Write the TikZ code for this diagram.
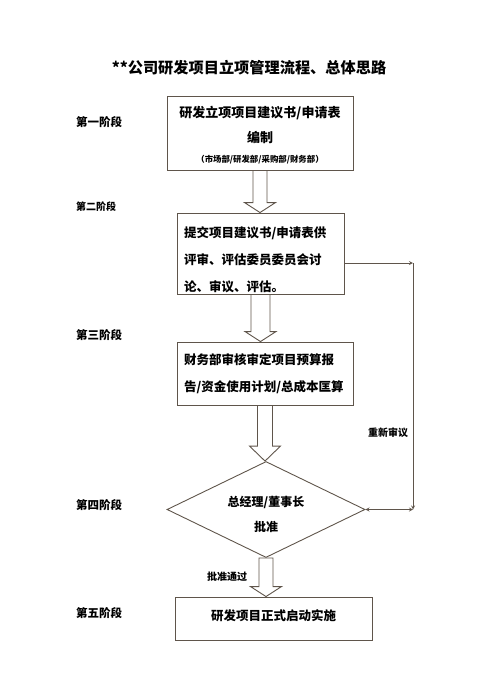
\documentclass[tikz,border=0pt]{standalone}
\usepackage{fontspec}
\setmainfont{Noto Sans CJK SC}
\usetikzlibrary{shapes.geometric,calc}
\definecolor{framegray}{RGB}{95,85,75}
\tikzstyle{box}=[shape=rectangle,
                draw=framegray,
                line width=0.9pt,
                inner xsep=7pt,
                inner ysep=0pt,
                font=\bfseries\fontsize{12.5}{27}\selectfont]
\tikzstyle{dec}=[shape=diamond,
                draw=framegray,
                line width=0.9pt,
                aspect=2,
                inner sep=0pt,
                minimum width=198pt,
                minimum height=96pt,
                align=center,
                font=\bfseries\fontsize{12}{25}\selectfont]
\tikzstyle{stage}=[anchor=west,
                inner sep=0pt,
                font=\bfseries\fontsize{11.5}{13}\selectfont]
\tikzstyle{note}=[inner sep=0pt,
                font=\bfseries\fontsize{10}{12}\selectfont]
\tikzstyle{flow}=[draw=framegray,
                line width=0.9pt]
\tikzstyle{link}=[draw=framegray,
                line width=0.8pt]

% hollow arrow: from, to, half shaft width, head length
\newcommand{\blockarrow}[4]{%
  \draw[flow] let \p1=(#1.south), \p2=(#2.north) in
    (\x1-#3pt,\y1) -- (\x1-#3pt,\y2+#4pt) -- (\x1-15.5pt,\y2+#4pt) -- (\x1,\y2)
    -- (\x1+15.5pt,\y2+#4pt) -- (\x1+#3pt,\y2+#4pt) -- (\x1+#3pt,\y1) -- cycle;}

\begin{document}
\begin{tikzpicture}[x=1pt,y=-1pt,>=stealth]
\useasboundingbox (0,0) rectangle (500,688);

% title
\node[inner sep=0pt,font=\bfseries\fontsize{15.2}{18}\selectfont] (title) at (249,68)
  {**公司研发项目立项管理流程、总体思路};

% stage labels
\node[stage] (s1) at (76,122) {第一阶段};
\node[stage,font=\bfseries\fontsize{10}{12}\selectfont] (s2) at (76,207) {第二阶段};
\node[stage] (s3) at (76,335) {第三阶段};
\node[stage] (s4) at (76,505) {第四阶段};
\node[stage] (s5) at (76,613) {第五阶段};

% process steps
\node[box,align=center,text width=172pt,minimum height=74pt,text height=16pt,
      font=\bfseries\fontsize{13}{25}\selectfont] (b1) at (260,133)
  {研发立项项目建议书/申请表\\编制\\[-5pt]{\fontsize{8.4}{10}\selectfont （市场部/研发部/采购部/财务部）}};
\node[box,align=left,text width=153pt,minimum height=81pt,text height=24pt] (b2) at (260.5,253.5)
  {提交项目建议书/申请表供\\评审、评估委员委员会讨\\论、审议、评估。};
\node[box,align=left,text width=162pt,minimum height=63pt,text height=10.5pt] (b3) at (265,373.5)
  {财务部审核审定项目预算报\\告/资金使用计划/总成本匡算};
\node[dec,text height=45pt] (dia) at (266,509.5) {总经理/董事长\\批准};
\node[box,minimum width=197pt,minimum height=43pt,text height=4pt,text depth=1pt] (b5) at (273.5,618.5)
  {研发项目正式启动实施};

% hollow arrows between steps
\blockarrow{b1}{b2}{7}{10}
\blockarrow{b2}{b3}{9.5}{10}
\blockarrow{b3}{dia}{7.5}{15}
\blockarrow{dia}{b5}{7}{10}

% review loop on the right
\coordinate (r1) at (413,263);
\coordinate (r2) at (413,509.5);
\draw[link,->] (b2.east |- r1) -- (r1);
\draw[link,->] (r1) -- (r2);
\draw[link,<->] (dia.east) -- (r2);

% loop and exit labels
\node[note] (again) at (388,433) {重新审议};
\node[note] (pass) at (227,577) {批准通过};

\end{tikzpicture}
\end{document}
